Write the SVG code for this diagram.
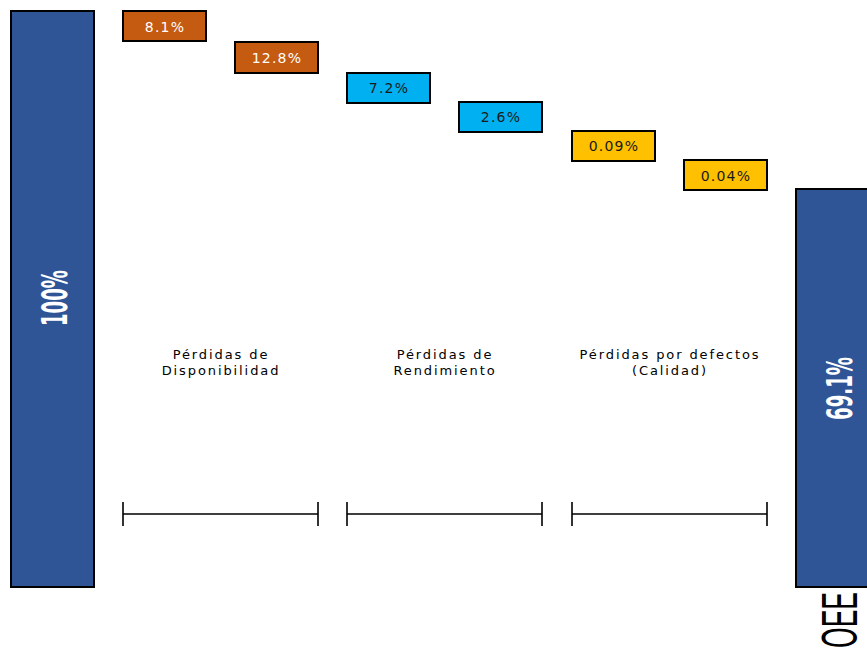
<svg xmlns="http://www.w3.org/2000/svg" width="867" height="648" viewBox="0 0 867 648">
  <style>
    .bar { fill: #2F5597; stroke: #000; stroke-width: 2; }
    .loss { stroke: #000; stroke-width: 2; }
    .avail { fill: #C55A11; }
    .perf { fill: #00B0F0; }
    .qual { fill: #FFC000; }
    .val { font-family: "DejaVu Sans", Verdana, sans-serif; font-size: 14px; letter-spacing: 1.2px; text-anchor: middle; }
    .light { fill: #FFFFFF; }
    .dark { fill: #1A1A1A; }
    .big { font-family: "DejaVu Sans Condensed", "DejaVu Sans", sans-serif; font-weight: bold; font-size: 35px; fill: #FFFFFF; text-anchor: middle; }
    .cat { font-family: "DejaVu Sans", Verdana, sans-serif; font-size: 13px; letter-spacing: 1.9px; fill: #000; text-anchor: middle; }
    .axis { font-family: "Liberation Sans", Arial, sans-serif; font-size: 50px; fill: #000; }
    .brace { stroke: #000; stroke-width: 1.6; fill: none; }
  </style>

  <!-- start total -->
  <g id="total">
    <rect class="bar" x="11" y="11" width="83" height="576"/>
    <text class="big" transform="translate(67,298) rotate(-90)" textLength="56" lengthAdjust="spacingAndGlyphs">100%</text>
  </g>

  <!-- availability losses -->
  <g id="loss-1">
    <rect class="loss avail" x="123" y="11" width="83" height="30"/>
    <text class="val light" x="165" y="32">8.1%</text>
  </g>
  <g id="loss-2">
    <rect class="loss avail" x="235" y="42" width="83" height="31"/>
    <text class="val light" x="277" y="63">12.8%</text>
  </g>

  <!-- performance losses -->
  <g id="loss-3">
    <rect class="loss perf" x="347" y="73" width="83" height="30"/>
    <text class="val dark" x="389" y="93">7.2%</text>
  </g>
  <g id="loss-4">
    <rect class="loss perf" x="459" y="102" width="83" height="30"/>
    <text class="val dark" x="501" y="122">2.6%</text>
  </g>

  <!-- quality losses -->
  <g id="loss-5">
    <rect class="loss qual" x="572" y="131" width="83" height="30"/>
    <text class="val dark" x="614" y="151">0.09%</text>
  </g>
  <g id="loss-6">
    <rect class="loss qual" x="684" y="160" width="83" height="30"/>
    <text class="val dark" x="726" y="181">0.04%</text>
  </g>

  <!-- end result -->
  <g id="oee">
    <rect class="bar" x="796" y="189" width="75" height="398"/>
    <text class="big" transform="translate(852,388.5) rotate(-90)" textLength="63" lengthAdjust="spacingAndGlyphs">69.1%</text>
    <text class="axis" transform="translate(857,592) rotate(-90)" text-anchor="end" textLength="56" lengthAdjust="spacingAndGlyphs">OEE</text>
  </g>

  <!-- category captions -->
  <g id="cat-availability">
    <text class="cat" x="221" y="359">Pérdidas de</text>
    <text class="cat" x="221" y="375">Disponibilidad</text>
  </g>
  <g id="cat-performance">
    <text class="cat" x="445" y="359">Pérdidas de</text>
    <text class="cat" x="445" y="375">Rendimiento</text>
  </g>
  <g id="cat-quality">
    <text class="cat" x="670" y="359">Pérdidas por defectos</text>
    <text class="cat" x="670" y="375">(Calidad)</text>
  </g>

  <!-- span brackets -->
  <g id="connectors">
    <path class="brace" d="M123,502 V526 M123,514 H318 M318,502 V526"/>
    <path class="brace" d="M347,502 V526 M347,514 H542 M542,502 V526"/>
    <path class="brace" d="M572,502 V526 M572,514 H767 M767,502 V526"/>
  </g>
</svg>
